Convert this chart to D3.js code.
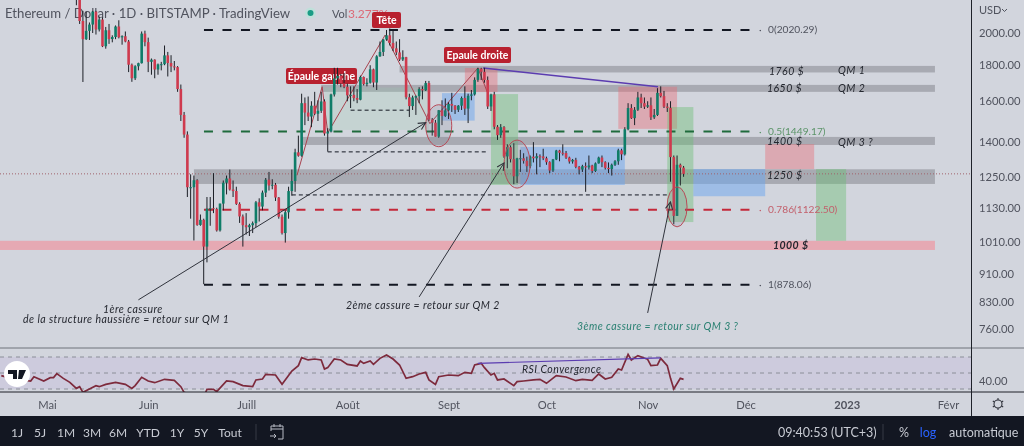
<!DOCTYPE html>
<html>
<head>
<meta charset="utf-8">
<script src="https://cdn.jsdelivr.net/npm/d3@7"></script>
<style>
  html, body { margin: 0; padding: 0; background: #d2d5dd; overflow: hidden; }
  svg { display: block; filter: blur(0.3px); }
  text { font-family: "Lato", "Noto Sans", sans-serif; }
</style>
</head>
<body>
<svg id="chart" width="1024" height="446"></svg>
<script>
// daily candles, first one is May 10 2022
var candleOpen = [2245,2343,2080,1960,2014,2056,2145,2023,2090,1915,2018,1961,1974,2043,1972,1979,1945,1803,1725,1794,1812,1996,
  1941,1820,1833,1775,1805,1806,1859,1813,1793,1789,1665,1530,1435,1208,1208,1236,1068,1086,995,1126,1128,1125,1049,1145,1226,1243,1199,1193,1144,1098,
  1067,1060,1067,1074,1150,1134,1187,1238,1215,1218,1168,1097,1040,1113,1193,1233,1354,1339,1590,1542,1522,1577,1536,1551,1599,1440,1449,1636,1724,1738,1696,
  1678,1631,1634,1617,1608,1732,1692,1700,1776,1701,1853,1880,1958,1985,1936,1902,1877,1834,1848,1621,1575,1620,1627,1665,1658,1698,1507,1492,1425,1554,1525,
  1553,1586,1577,1556,1577,1617,1562,1629,1636,1716,1779,1762,1715,1573,1636,1472,1432,1470,1336,1377,1324,1252,1328,1328,1317,1294,1335,1328,1337,1336,
  1328,1311,1276,1323,1362,1352,1351,1331,1314,1321,1291,1280,1294,1289,1297,1274,1306,1331,1311,1287,1282,1300,1315,1363,1345,1460,1565,1514,1556,1620,1590,
  1572,1579,1518,1530,1645,1627,1572,1566,1333,1100,1300,1288];
var candleHigh = [2450,2445,2150,2145,2070,2150,2150,2110,2105,2040,2060,1985,2050,2085,1985,2010,1955,1810,1800,1815,2010,2015,
  1970,1840,1835,1810,1820,1920,1880,1860,1825,1795,1690,1545,1450,1260,1255,1240,1105,1090,1170,1170,1265,1130,1145,1235,1255,1280,1235,1210,1150,1105,
  1110,1072,1080,1155,1165,1195,1245,1270,1240,1225,1170,1105,1120,1210,1280,1370,1430,1640,1620,1625,1600,1650,1605,1650,1610,1465,1640,1785,1785,1750,1755,
  1695,1680,1680,1665,1740,1735,1725,1800,1780,1860,1945,1960,2020,2030,2015,1945,1960,1890,1850,1640,1630,1630,1675,1680,1710,1710,1515,1505,1555,1605,1615,
  1595,1645,1580,1580,1625,1680,1640,1660,1730,1785,1785,1785,1735,1640,1650,1480,1485,1475,1390,1385,1395,1330,1365,1350,1335,1340,1400,1350,1345,1370,
  1335,1315,1325,1365,1365,1390,1360,1335,1325,1330,1295,1300,1310,1340,1300,1310,1335,1340,1315,1310,1305,1320,1370,1370,1470,1590,1585,1570,1650,1640,1620,
  1600,1620,1560,1670,1680,1655,1590,1600,1340,1340,1305,1295];
var candleLow = [2190,2060,1704,1955,1955,2000,1990,2010,1910,1900,1930,1940,1960,1965,1925,1940,1760,1705,1715,1770,1810,1915,
  1760,1745,1725,1745,1770,1800,1735,1760,1770,1650,1500,1420,1170,1090,1015,1065,1065,880,945,1065,1110,1045,1045,1120,1180,1195,1170,1140,1075,995,
  1035,1030,1040,1060,1080,1120,1170,1195,1200,1155,1090,1035,1008,1090,1175,1190,1335,1335,1480,1500,1470,1530,1500,1540,1430,1357,1445,1625,1690,1675,1670,
  1600,1565,1600,1590,1605,1685,1680,1695,1675,1660,1850,1855,1950,1920,1885,1860,1825,1825,1610,1520,1555,1530,1590,1610,1655,1500,1430,1425,1420,1480,1520,
  1510,1545,1535,1545,1555,1530,1490,1605,1630,1705,1715,1700,1560,1550,1460,1410,1420,1330,1285,1310,1220,1225,1270,1305,1270,1285,1310,1260,1290,1320,
  1300,1265,1270,1320,1315,1340,1325,1305,1305,1285,1260,1270,1190,1280,1265,1270,1305,1290,1280,1265,1255,1295,1300,1320,1340,1455,1510,1480,1550,1565,1560,
  1565,1505,1510,1525,1620,1565,1545,1230,1070,1100,1215,1250];
var candleClose = [2343,2080,1960,2014,2056,2145,2023,2090,1915,2018,1961,1974,2043,1972,1979,1945,1803,1725,1794,1812,1996,1941,
  1820,1833,1775,1805,1806,1859,1813,1793,1789,1665,1530,1435,1208,1208,1236,1068,1086,995,1126,1128,1125,1049,1145,1226,1243,1199,1193,1144,1098,1067,
  1060,1067,1074,1150,1134,1187,1238,1215,1218,1168,1097,1040,1113,1193,1233,1354,1339,1590,1542,1522,1577,1536,1551,1599,1440,1449,1636,1724,1738,1696,1678,
  1631,1634,1617,1608,1732,1692,1700,1776,1701,1853,1880,1958,1985,1936,1902,1877,1834,1848,1621,1575,1620,1627,1665,1658,1698,1507,1492,1425,1554,1525,1553,
  1586,1577,1556,1577,1617,1562,1629,1636,1716,1779,1762,1715,1573,1636,1472,1432,1470,1336,1377,1324,1252,1328,1328,1317,1294,1335,1328,1337,1336,1328,
  1311,1276,1323,1362,1352,1351,1331,1314,1321,1291,1280,1294,1289,1297,1274,1306,1331,1311,1287,1282,1300,1315,1363,1345,1460,1565,1514,1556,1620,1590,1572,
  1579,1518,1530,1645,1627,1572,1566,1333,1100,1300,1288,1262];

// rsi, day = days after May 1 2022
var rsiDay = [-14,-11,-8,-5,-4,-1,1,2,3,5,7,9,10,11,13,15,16,18,21,24,26,27,29,31,33,36,39,41,42,45,48,49,51,52,55,57,60,63,64,66,67,70,72,75,77,78,80,82,84,85,86,88,90,92,95,96,97,99,100,102,104,106,108,110,112,114,116,117,119,120,123,126,128,130,131,133,134,136,137,138,140,143,144,146,149,151,153,156,159,162,164,167,169,171,173,175,176,178,179,181,184,185,187,188,190,191,192,194,195];
var rsiValue = [46.7,43.3,41.3,40,45.4,40,44.2,44.2,49.2,43.3,38.3,30.8,32.9,25.8,30,34.2,32.9,35.8,38.3,35.8,30.8,34.2,44.6,40,37.9,42.1,40.8,32.9,25.8,22,20,29.6,29.6,26.7,40,39.2,34.2,32.9,41.3,42.5,48.3,47.5,35.8,52.5,59.2,69.2,66.3,67.5,66.3,55,56.7,67.5,66.3,60.8,58.8,65,62.1,65,60.8,68.3,72.5,67.5,60,43.3,45.4,48.8,50.8,41.3,35.8,45.4,47.5,46.7,50.8,49.6,60,62.1,56.7,47.5,49.6,41.3,42.5,34.2,39.2,40,41.3,42.1,37.1,46.7,45,40.4,42.1,40.8,48.8,42.5,44.6,55,53.8,73.3,66.3,71.7,67.1,59.2,60,68.3,59.2,43.3,30,43.3,42.1];
var rsiLevels = [70, 50, 30];

// axis
var priceTicks = [2000,1800,1600,1400,1250,1130,1010,910,830,760];
var rsiTicks = [40];
var monthDates = [new Date(2022,4,1),new Date(2022,5,1),new Date(2022,6,1),new Date(2022,7,1),new Date(2022,8,1),new Date(2022,9,1),new Date(2022,10,1),new Date(2022,11,1),new Date(2023,0,1),new Date(2023,1,1)];
var monthNames = ["Mai","Juin","Juill","Août","Sept","Oct","Nov","Déc","2023","Févr"];

// drawings, in [day, price]
var fibLevels = [2020.29, 1449.17, 1122.5, 878.06];
var fibNames = ["0(2020.29)", "0.5(1449.17)", "0.786(1122.50)", "1(878.06)"];
var fibColors = ["#131722", "#1f6b3c", "#c4283a", "#131722"];
var fibTextColors = ["#50535e", "#5b9468", "#c2606c", "#50535e"];
var zoneTop = [1796, 1688, 1424, 1281, 1014];
var zoneBottom = [1758, 1650, 1387, 1221, 984];
var zoneStart = [108, 84, 78, 45, -15];
var dashLevels = [1554, 1356, 1178];
var dashStart = [93, 86, 75];
var dashEnd = [111, 134.5, 190];
var boxes = [
  {d0: 85, d1: 117, p0: 1673, p1: 1457, c: "rgba(150,205,175,.22)"},
  {d0: 128, d1: 138, p0: 1784, p1: 1649, c: "rgba(232,110,120,.42)"},
  {d0: 121, d1: 131, p0: 1643, p1: 1502, c: "rgba(105,165,240,.5)"},
  {d0: 136, d1: 144.3, p0: 1638, p1: 1217, c: "rgba(105,190,115,.42)"},
  {d0: 145, d1: 177, p0: 1378, p1: 1217, c: "rgba(105,165,240,.5)"},
  {d0: 175, d1: 193, p0: 1678, p1: 1462, c: "rgba(232,110,120,.42)"},
  {d0: 190, d1: 198, p0: 1570, p1: 1078, c: "rgba(105,190,115,.42)"},
  {d0: 198, d1: 220, p0: 1282, p1: 1173, c: "rgba(105,165,240,.5)"},
  {d0: 220, d1: 235, p0: 1391, p1: 1282, c: "rgba(232,110,120,.42)"},
  {d0: 235.6, d1: 244.8, p0: 1282, p1: 1014, c: "rgba(105,190,115,.42)"}
];
var patternDay = [76.6, 84.3, 86, 103.6, 117.3, 132, 135];
var patternPrice = [1256, 1678, 1443, 1987, 1487, 1784, 1643];
var ovalDay = [120, 144, 193];
var ovalPrice = [1477, 1303, 1133];
var ovalRx = [13, 13, 10];
var ovalRy = [21, 24, 20];
var arrowDay = [[28, 116], [114, 140], [184, 191]];
var arrowPrice = [[836, 1492], [844, 1308], [801, 1151]];

var W = 1024, H = 446, axisX = 971, paneBottom = 348, rsiBottom = 392, timeBottom = 416;
var svg = d3.select("#chart");

var defs = svg.append("defs");
defs.append("clipPath").attr("id", "mainClip").append("rect").attr("width", axisX).attr("height", paneBottom);
defs.append("clipPath").attr("id", "rsiClip").append("rect").attr("y", paneBottom).attr("width", axisX).attr("height", rsiBottom - paneBottom);
defs.append("marker").attr("id", "head").attr("viewBox", "0 0 10 10").attr("refX", 9).attr("refY", 5)
  .attr("markerWidth", 9).attr("markerHeight", 9).attr("orient", "auto")
  .append("path").attr("d", "M1,1L9,5L1,9").attr("fill", "none").attr("stroke", "#30333c").attr("stroke-width", 1.2);

var start = new Date(2022, 4, 1);
var day = function(n) { return d3.timeHour.offset(start, n * 24); };
var x = d3.scaleTime().domain([start, new Date(2023, 1, 1)]).range([47, 948]);
var y = d3.scaleLog().domain([760, 2000]).range([329, 33]);
var yRsi = d3.scaleLinear().domain([30, 70]).range([389, 357]);

svg.append("rect").attr("width", W).attr("height", H).attr("fill", "#d2d5dd");

// title, the tags sit over the volume text
svg.append("text").attr("x", 5).attr("y", 18).attr("font-size", 13.2).attr("fill", "#50535e")
  .text("Ethereum / Dollar · 1D · BITSTAMP · TradingView");
svg.append("circle").attr("cx", 310.5).attr("cy", 13).attr("r", 5.5).attr("fill", "#bfe0da");
svg.append("circle").attr("cx", 310.5).attr("cy", 13).attr("r", 3).attr("fill", "#1a9c85");
svg.append("text").attr("x", 332).attr("y", 18).attr("font-size", 11).attr("fill", "#50535e").text("Vol");
svg.append("text").attr("x", 348).attr("y", 18).attr("font-size", 12).attr("fill", "#dc6a78").text("3.277%");

var main = svg.append("g").attr("clip-path", "url(#mainClip)");

// grey and pink zones
main.selectAll(".zone").data(zoneTop).enter().append("rect")
  .attr("x", function(d, i) { return x(day(zoneStart[i])); })
  .attr("width", function(d, i) { return x(day(272)) - x(day(zoneStart[i])); })
  .attr("y", function(d) { return y(d); })
  .attr("height", function(d, i) { return y(zoneBottom[i]) - y(d); })
  .attr("fill", function(d, i) { return i == 4 ? "#e6a9b3" : "#a8aab2"; });

// position boxes
main.selectAll(".box").data(boxes).enter().append("rect")
  .attr("x", function(d) { return x(day(d.d0)); })
  .attr("width", function(d) { return x(day(d.d1)) - x(day(d.d0)); })
  .attr("y", function(d) { return y(d.p0); })
  .attr("height", function(d) { return y(d.p1) - y(d.p0); })
  .attr("fill", function(d) { return d.c; });

// last price
main.append("line").attr("x1", 0).attr("x2", axisX)
  .attr("y1", y(candleClose[candleClose.length - 1])).attr("y2", y(candleClose[candleClose.length - 1]))
  .attr("stroke", "#a0626c").attr("stroke-width", 1).attr("stroke-dasharray", "1 2");

// fib levels
main.selectAll(".fib").data(fibLevels).enter().append("line")
  .attr("x1", x(day(48.1))).attr("x2", x(day(216)))
  .attr("y1", function(d) { return y(d); }).attr("y2", function(d) { return y(d); })
  .attr("stroke", function(d, i) { return fibColors[i]; })
  .attr("stroke-width", 2).attr("stroke-dasharray", "9 9.5");

main.selectAll(".dash").data(dashLevels).enter().append("line")
  .attr("x1", function(d, i) { return x(day(dashStart[i])); })
  .attr("x2", function(d, i) { return x(day(dashEnd[i])); })
  .attr("y1", function(d) { return y(d); }).attr("y2", function(d) { return y(d); })
  .attr("stroke", "#131722").attr("stroke-width", 1).attr("stroke-dasharray", "4 3");

// head and shoulders
var pattern = d3.line().x(function(d) { return x(day(d)); }).y(function(d, i) { return y(patternPrice[i]); });
main.append("path").attr("d", pattern(patternDay)).attr("fill", "none")
  .attr("stroke", "#a8434f").attr("stroke-width", 1);

// purple divergence
main.append("line").attr("x1", x(day(133.6))).attr("y1", y(1784)).attr("x2", x(day(187.2))).attr("y2", y(1678))
  .attr("stroke", "#5b3cb0").attr("stroke-width", 1.5);

// tags go under the candles
var tags = [["Tête", 372, 12, 29], ["Épaule gauche", 286, 68, 71], ["Epaule droite", 444, 47, 67]];
tags.forEach(function(t) {
  main.append("rect").attr("x", t[1]).attr("y", t[2]).attr("width", t[3]).attr("height", 16).attr("rx", 2).attr("fill", "#b8212f");
  main.append("text").attr("x", t[1] + t[3] / 2).attr("y", t[2] + 11.5).attr("text-anchor", "middle")
    .attr("fill", "#fff").attr("font-size", 10.5).attr("font-weight", 700).text(t[0]);
});

// candles
var candles = main.selectAll(".candle").data(candleClose).enter().append("g");
candles.append("line")
  .attr("x1", function(d, i) { return x(day(9 + i)); }).attr("x2", function(d, i) { return x(day(9 + i)); })
  .attr("y1", function(d, i) { return y(candleHigh[i]); }).attr("y2", function(d, i) { return y(candleLow[i]); })
  .attr("stroke", "#1c1f26").attr("stroke-width", 1);
candles.append("rect")
  .attr("x", function(d, i) { return x(day(9 + i)) - 1.3; }).attr("width", 2.6)
  .attr("y", function(d, i) { return y(Math.max(candleOpen[i], d)); })
  .attr("height", function(d, i) { return Math.max(1, Math.abs(y(candleOpen[i]) - y(d))); })
  .attr("fill", function(d, i) { return d >= candleOpen[i] ? "#0f7d68" : "#cf3a4e"; });

// ovals
main.selectAll(".oval").data(ovalDay).enter().append("ellipse")
  .attr("cx", function(d) { return x(day(d)); })
  .attr("cy", function(d, i) { return y(ovalPrice[i]); })
  .attr("rx", function(d, i) { return ovalRx[i]; })
  .attr("ry", function(d, i) { return ovalRy[i]; })
  .attr("fill", "rgba(110,110,125,.15)").attr("stroke", "#b84a58").attr("stroke-width", 1);

// arrows
main.selectAll(".arrow").data(arrowDay).enter().append("line")
  .attr("x1", function(d) { return x(day(d[0])); }).attr("x2", function(d) { return x(day(d[1])); })
  .attr("y1", function(d, i) { return y(arrowPrice[i][0]); }).attr("y2", function(d, i) { return y(arrowPrice[i][1]); })
  .attr("stroke", "#30333c").attr("stroke-width", 1).attr("marker-end", "url(#head)");

// fib labels
svg.selectAll(".fibDot").data(fibLevels).enter().append("text")
  .attr("x", 759).attr("y", function(d) { return y(d) + 3.5; }).attr("font-size", 10)
  .attr("fill", function(d, i) { return fibTextColors[i]; }).text("·");
svg.selectAll(".fibText").data(fibNames).enter().append("text")
  .attr("x", 768).attr("y", function(d, i) { return y(fibLevels[i]) + 3.5; }).attr("font-size", 10.2)
  .attr("fill", function(d, i) { return fibTextColors[i]; }).text(function(d) { return d; });

// rsi pane
svg.append("rect").attr("x", 0).attr("width", axisX).attr("y", yRsi(70)).attr("height", yRsi(30) - yRsi(70)).attr("fill", "#cdcbdd");
svg.selectAll(".rsiLevel").data(rsiLevels).enter().append("line")
  .attr("x1", 0).attr("x2", axisX).attr("y1", function(d) { return yRsi(d); }).attr("y2", function(d) { return yRsi(d); })
  .attr("stroke", "#8b8e98").attr("stroke-width", 1).attr("stroke-dasharray", "4 4");
var rsiLine = d3.line().x(function(d) { return x(day(d)); }).y(function(d, i) { return yRsi(rsiValue[i]); });
var rsiPane = svg.append("g").attr("clip-path", "url(#rsiClip)");
rsiPane.append("path").attr("d", rsiLine(rsiDay)).attr("fill", "none").attr("stroke", "#7d2a3c").attr("stroke-width", 1.7);
rsiPane.append("line").attr("x1", x(day(132))).attr("y1", yRsi(62)).attr("x2", x(day(188))).attr("y2", yRsi(69))
  .attr("stroke", "#5b3cb0").attr("stroke-width", 1.2);

// hand written notes
var notes = [
  ["1760 $", 769, 75, 0], ["QM 1", 838, 74, 0], ["1650 $", 767, 92, 0], ["QM 2", 838, 92, 0],
  ["1400 $", 767, 145, 0], ["QM 3 ?", 838, 146, 0], ["1250 $", 767, 179, 0], ["1000 $", 773, 249, 1],
  ["1ère cassure", 103, 313, 0], ["de la structure haussière = retour sur QM 1", 23, 323, 0],
  ["2ème cassure = retour sur QM 2", 346, 309, 0], ["RSI Convergence", 522, 373, 0]
];
notes.forEach(function(n) {
  svg.append("text").attr("x", n[1]).attr("y", n[2]).attr("font-size", 10.5).attr("font-style", "italic")
    .attr("letter-spacing", 0.45).attr("font-weight", n[3] ? 700 : 400).attr("fill", "#24272f").text(n[0]);
});
svg.append("text").attr("x", 577).attr("y", 330).attr("font-size", 10.5).attr("font-style", "italic")
  .attr("letter-spacing", 0.45).attr("fill", "#2a8072").text("3ème cassure = retour sur QM 3 ?");

// tv logo
svg.append("circle").attr("cx", 17).attr("cy", 374).attr("r", 13).attr("fill", "#fff");
svg.append("path").attr("d", "M8,370H17V379H13V374H8ZM19,370H26L22,379H18Z").attr("fill", "#131722");

// price axis
var yAxis = d3.axisRight(y).tickValues(priceTicks).tickSize(0).tickPadding(8).tickFormat(d3.format(".2f"));
var yAxisG = svg.append("g").attr("transform", "translate(" + axisX + ",0)").call(yAxis);
var rsiAxis = d3.axisRight(yRsi).tickValues(rsiTicks).tickSize(0).tickPadding(8).tickFormat(d3.format(".2f"));
var rsiAxisG = svg.append("g").attr("transform", "translate(" + axisX + ",0)").call(rsiAxis);
var xAxis = d3.axisBottom(x).tickValues(monthDates).tickSize(0).tickPadding(7)
  .tickFormat(function(d, i) { return monthNames[i]; });
var xAxisG = svg.append("g").attr("transform", "translate(0," + (rsiBottom + 2) + ")").call(xAxis);
[yAxisG, rsiAxisG, xAxisG].forEach(function(g) {
  g.select(".domain").remove();
  g.selectAll("text").attr("font-family", "Lato, 'Noto Sans', sans-serif").attr("font-size", 11.2).attr("fill", "#50535e");
});
xAxisG.selectAll("text").filter(function(d, i) { return monthNames[i] == "2023"; }).attr("font-weight", 700);
svg.append("text").attr("x", 979).attr("y", 14).attr("font-size", 11).attr("fill", "#50535e").text("USD");
svg.append("path").attr("d", "M1002,9l2.5,2.5L1007,9").attr("fill", "none").attr("stroke", "#50535e");

// pane borders
svg.append("line").attr("x1", 0).attr("x2", W).attr("y1", paneBottom).attr("y2", paneBottom).attr("stroke", "#6f727b").attr("stroke-width", 1);
svg.append("line").attr("x1", 0).attr("x2", W).attr("y1", rsiBottom).attr("y2", rsiBottom).attr("stroke", "#1e2129").attr("stroke-width", 1);
svg.append("line").attr("x1", axisX + .5).attr("x2", axisX + .5).attr("y1", 0).attr("y2", timeBottom).attr("stroke", "#1e2129").attr("stroke-width", 1);

// settings gear
svg.append("circle").attr("cx", 998).attr("cy", 404).attr("r", 4).attr("fill", "none").attr("stroke", "#30333c").attr("stroke-width", 1.1);
d3.range(0, 360, 60).forEach(function(a) {
  svg.append("line").attr("x1", 998).attr("x2", 998).attr("y1", 398).attr("y2", 400)
    .attr("transform", "rotate(" + a + " 998 404)").attr("stroke", "#30333c").attr("stroke-width", 1.1);
});

// bottom toolbar
svg.append("rect").attr("y", timeBottom).attr("width", W).attr("height", H - timeBottom).attr("fill", "#131722");
var ranges = ["1J","5J","1M","3M","6M","YTD","1Y","5Y","Tout"];
var rangeX = [17,40,66,92,118,148,177,201,230];
svg.selectAll(".range").data(ranges).enter().append("text")
  .attr("x", function(d, i) { return rangeX[i]; }).attr("y", 437).attr("text-anchor", "middle")
  .attr("font-size", 12).attr("fill", "#c8cbd3").text(function(d) { return d; });
svg.append("line").attr("x1", 256).attr("x2", 256).attr("y1", 424).attr("y2", 440).attr("stroke", "#363a45");
svg.append("path").attr("d", "M271,431V426H283V439H278M271,429H283M274,424V427M280,424V427M270,436H276M274,434l2,2l-2,2")
  .attr("fill", "none").attr("stroke", "#b8bbc4").attr("stroke-width", 1);
svg.append("text").attr("x", 778).attr("y", 437).attr("font-size", 12.5).attr("fill", "#c8cbd3").text("09:40:53 (UTC+3)");
svg.append("line").attr("x1", 883).attr("x2", 883).attr("y1", 424).attr("y2", 440).attr("stroke", "#363a45");
svg.append("text").attr("x", 904).attr("y", 437).attr("text-anchor", "middle").attr("font-size", 12.5).attr("fill", "#c8cbd3").text("%");
svg.append("text").attr("x", 928).attr("y", 437).attr("text-anchor", "middle").attr("font-size", 12.5).attr("fill", "#2962ff").text("log");
svg.append("text").attr("x", 949).attr("y", 437).attr("font-size", 12.5).attr("fill", "#c8cbd3").text("automatique");
</script>
</body>
</html>
